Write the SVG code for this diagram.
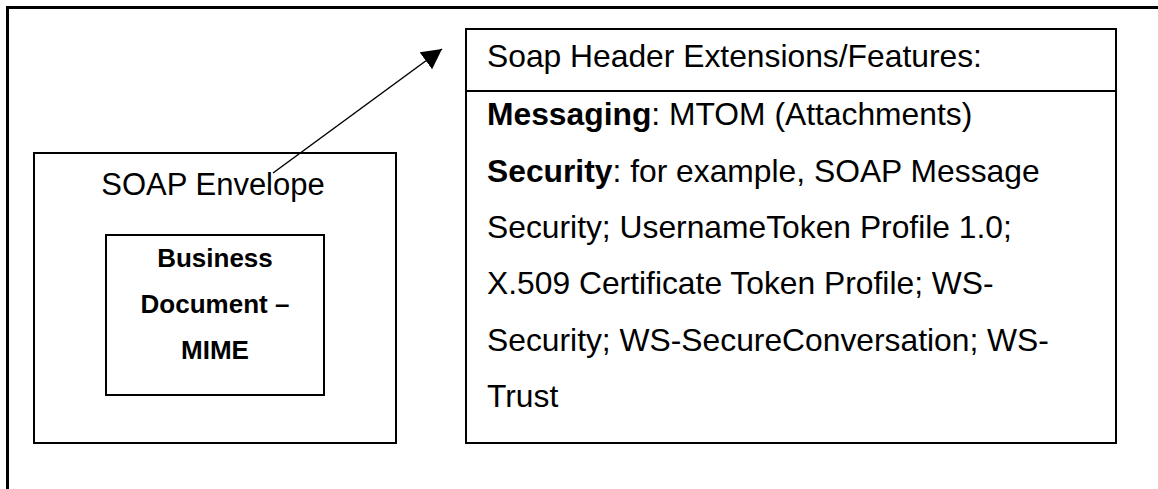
<svg xmlns="http://www.w3.org/2000/svg" width="1158" height="489" viewBox="0 0 1158 489">
<style>
.box{fill:#fff;stroke:#000;stroke-width:2}
.frame{fill:none;stroke:#000;stroke-width:3}
.t{font-family:"Liberation Sans",Arial,sans-serif;fill:#000}
.b{font-weight:bold}
.conn{stroke:#000;stroke-width:1.5;fill:none}
</style>
<defs>
<marker id="ah" markerUnits="userSpaceOnUse" markerWidth="21" markerHeight="21" refX="20" refY="10.5" orient="auto" viewBox="0 0 21 21">
<path d="M0,0 L20,10.5 L0,21 z" fill="#000"/>
</marker>
</defs>
<rect width="1158" height="489" fill="#fff"/>
<g id="frame">
<path class="frame" d="M7.5,489 V7.5 H1158"/>
</g>
<g id="soap-envelope">
<rect class="box" x="34" y="153" width="362" height="290"/>
<text class="t" x="213" y="195" font-size="31" text-anchor="middle">SOAP Envelope</text>
</g>
<g id="business-document">
<rect class="box" x="106" y="235" width="218" height="160"/>
<text class="t b" font-size="26" text-anchor="middle"><tspan x="215" y="267">Business</tspan><tspan x="215" y="313">Document –</tspan><tspan x="215" y="359">MIME</tspan></text>
</g>
<g id="header-extensions">
<rect class="box" x="466" y="29" width="650" height="414"/>
<line x1="466" y1="91" x2="1116" y2="91" stroke="#000" stroke-width="2"/>
<g class="t" font-size="31.8">
<text x="487" y="67">Soap Header Extensions/Features:</text>
<text x="487" y="125"><tspan class="b">Messaging</tspan>: MTOM (Attachments)</text>
<text x="487" y="182"><tspan class="b">Security</tspan>: for example, SOAP Message</text>
<text x="487" y="238">Security; UsernameToken Profile 1.0;</text>
<text x="487" y="294">X.509 Certificate Token Profile; WS-</text>
<text x="487" y="351">Security; WS-SecureConversation; WS-</text>
<text x="487" y="407">Trust</text>
</g>
</g>
<g id="connectors">
<line class="conn" x1="273" y1="173" x2="442" y2="49" marker-end="url(#ah)"/>
</g>
</svg>
